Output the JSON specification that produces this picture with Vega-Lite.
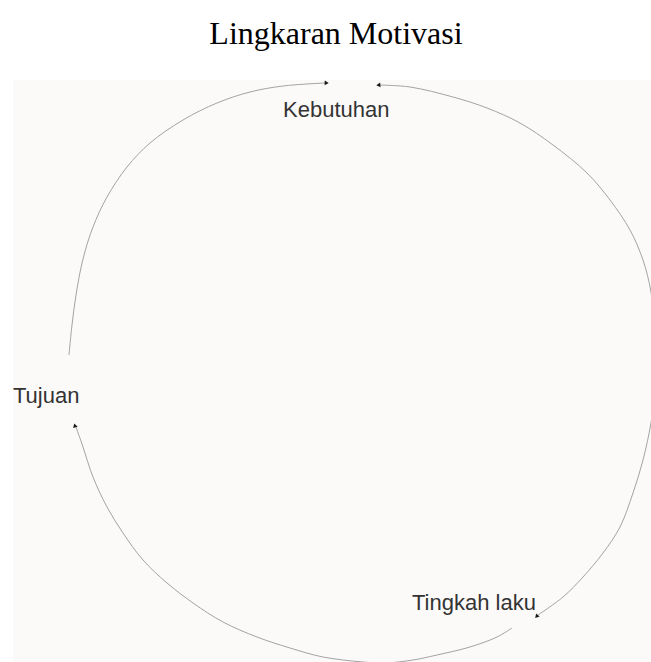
{
  "$schema": "https://vega.github.io/schema/vega-lite/v6.json",
  "autosize": {"type": "fit", "contains": "padding"},
  "width": 651,
  "height": 662,
  "padding": 0,
  "background": "#ffffff",
  "config": {"view": {"stroke": null}},
  "datasets": {
    "panel": [{"x": 13, "y": 80, "x2": 651, "y2": 662}],
    "arcs": [
      {"arc": "A", "i": 1, "x": 69, "y": 355},
      {"arc": "A", "i": 2, "x": 72, "y": 325},
      {"arc": "A", "i": 3, "x": 76, "y": 295},
      {"arc": "A", "i": 4, "x": 83, "y": 259},
      {"arc": "A", "i": 5, "x": 93, "y": 227},
      {"arc": "A", "i": 6, "x": 107, "y": 197},
      {"arc": "A", "i": 7, "x": 127, "y": 167},
      {"arc": "A", "i": 8, "x": 150, "y": 143},
      {"arc": "A", "i": 9, "x": 183, "y": 120},
      {"arc": "A", "i": 10, "x": 217, "y": 103},
      {"arc": "A", "i": 11, "x": 250, "y": 92},
      {"arc": "A", "i": 12, "x": 283, "y": 86},
      {"arc": "A", "i": 13, "x": 325, "y": 83},
      {"arc": "B", "i": 1, "x": 379, "y": 85},
      {"arc": "B", "i": 2, "x": 410, "y": 87},
      {"arc": "B", "i": 3, "x": 453, "y": 97},
      {"arc": "B", "i": 4, "x": 487, "y": 108},
      {"arc": "B", "i": 5, "x": 520, "y": 123},
      {"arc": "B", "i": 6, "x": 553, "y": 145},
      {"arc": "B", "i": 7, "x": 587, "y": 173},
      {"arc": "B", "i": 8, "x": 610, "y": 200},
      {"arc": "B", "i": 9, "x": 630, "y": 230},
      {"arc": "B", "i": 10, "x": 643, "y": 260},
      {"arc": "B", "i": 11, "x": 651, "y": 292},
      {"arc": "B", "i": 12, "x": 655, "y": 330},
      {"arc": "B", "i": 13, "x": 656, "y": 360},
      {"arc": "B", "i": 14, "x": 655, "y": 392},
      {"arc": "B", "i": 15, "x": 651, "y": 423},
      {"arc": "B", "i": 16, "x": 643, "y": 460},
      {"arc": "B", "i": 17, "x": 633, "y": 493},
      {"arc": "B", "i": 18, "x": 620, "y": 527},
      {"arc": "B", "i": 19, "x": 603, "y": 553},
      {"arc": "B", "i": 20, "x": 583, "y": 577},
      {"arc": "B", "i": 21, "x": 563, "y": 597},
      {"arc": "B", "i": 22, "x": 538, "y": 615},
      {"arc": "C", "i": 1, "x": 512, "y": 628},
      {"arc": "C", "i": 2, "x": 497, "y": 637},
      {"arc": "C", "i": 3, "x": 470, "y": 647},
      {"arc": "C", "i": 4, "x": 437, "y": 655},
      {"arc": "C", "i": 5, "x": 413, "y": 660},
      {"arc": "C", "i": 6, "x": 385, "y": 663},
      {"arc": "C", "i": 7, "x": 363, "y": 662},
      {"arc": "C", "i": 8, "x": 323, "y": 657},
      {"arc": "C", "i": 9, "x": 290, "y": 648},
      {"arc": "C", "i": 10, "x": 257, "y": 637},
      {"arc": "C", "i": 11, "x": 223, "y": 622},
      {"arc": "C", "i": 12, "x": 193, "y": 603},
      {"arc": "C", "i": 13, "x": 167, "y": 583},
      {"arc": "C", "i": 14, "x": 143, "y": 560},
      {"arc": "C", "i": 15, "x": 123, "y": 533},
      {"arc": "C", "i": 16, "x": 107, "y": 507},
      {"arc": "C", "i": 17, "x": 93, "y": 477},
      {"arc": "C", "i": 18, "x": 83, "y": 447},
      {"arc": "C", "i": 19, "x": 76, "y": 427}
    ],
    "heads": [
      {"x": 326, "y": 83, "dir": 92},
      {"x": 379, "y": 85, "dir": 265},
      {"x": 537, "y": 616, "dir": 222},
      {"x": 75, "y": 426, "dir": 345}
    ],
    "labels": [
      {"label": "Kebutuhan", "x": 283, "y": 117},
      {"label": "Tujuan", "x": 13, "y": 403},
      {"label": "Tingkah laku", "x": 412, "y": 610}
    ],
    "heading": [{"label": "Lingkaran Motivasi", "x": 336, "y": 44}]
  },
  "layer": [
    {
      "data": {"name": "panel"},
      "mark": {"type": "rect", "color": "#fbfaf9"},
      "encoding": {
        "x": {"field": "x", "type": "quantitative", "scale": {"domain": [0, 651], "nice": false, "zero": false}, "axis": null},
        "y": {"field": "y", "type": "quantitative", "scale": {"domain": [0, 662], "nice": false, "zero": false, "reverse": true}, "axis": null},
        "x2": {"field": "x2"},
        "y2": {"field": "y2"}
      }
    },
    {
      "data": {"name": "arcs"},
      "mark": {"type": "line", "interpolate": "catmull-rom", "strokeWidth": 1, "color": "#a3a3a3", "clip": true},
      "encoding": {
        "x": {"field": "x", "type": "quantitative"},
        "y": {"field": "y", "type": "quantitative"},
        "detail": {"field": "arc"},
        "order": {"field": "i", "type": "quantitative"}
      }
    },
    {
      "data": {"name": "heads"},
      "mark": {"type": "point", "shape": "triangle", "filled": true, "color": "#1a1a1a", "size": 22, "opacity": 1},
      "encoding": {
        "x": {"field": "x", "type": "quantitative"},
        "y": {"field": "y", "type": "quantitative"},
        "angle": {"field": "dir", "type": "quantitative", "scale": null}
      }
    },
    {
      "data": {"name": "labels"},
      "mark": {"type": "text", "font": "Liberation Sans", "fontSize": 22, "color": "#333333", "baseline": "alphabetic", "align": "left"},
      "encoding": {
        "x": {"field": "x", "type": "quantitative"},
        "y": {"field": "y", "type": "quantitative"},
        "text": {"field": "label"}
      }
    },
    {
      "data": {"name": "heading"},
      "mark": {"type": "text", "font": "Liberation Serif", "fontSize": 32, "color": "#000000", "baseline": "alphabetic", "align": "center"},
      "encoding": {
        "x": {"field": "x", "type": "quantitative"},
        "y": {"field": "y", "type": "quantitative"},
        "text": {"field": "label"}
      }
    }
  ]
}
